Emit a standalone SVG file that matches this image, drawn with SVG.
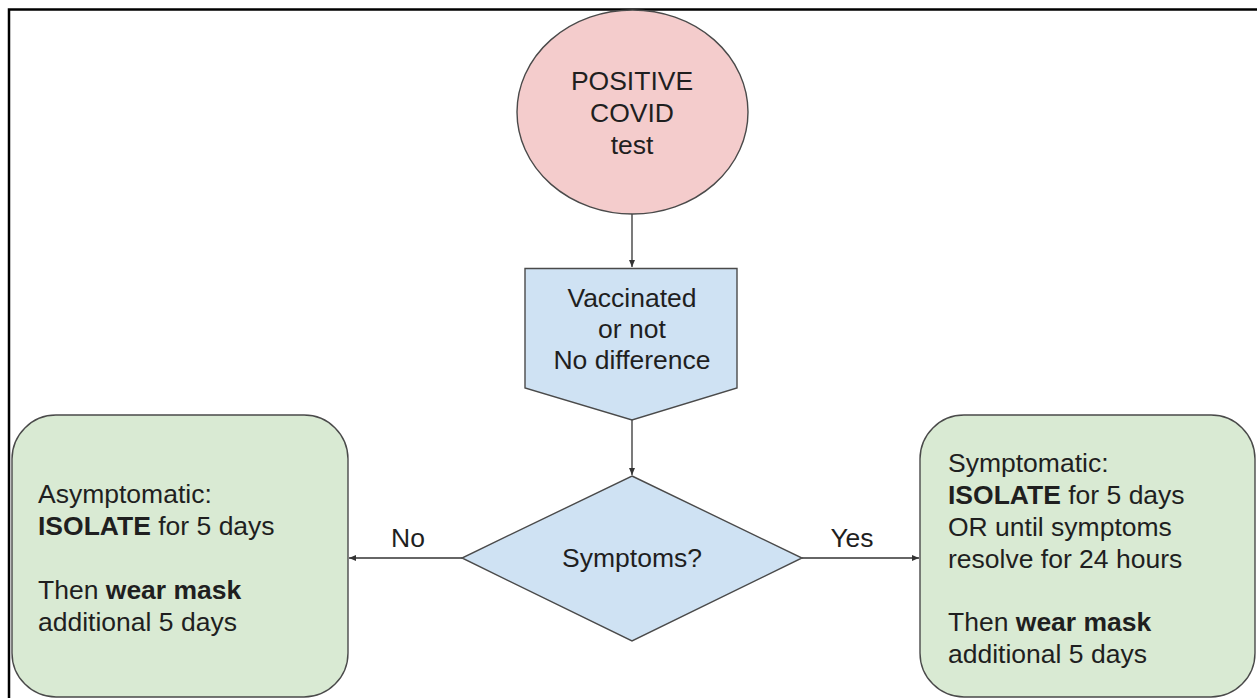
<svg xmlns="http://www.w3.org/2000/svg" width="1257" height="698" viewBox="0 0 1257 698">
<defs>
<marker id="ah" markerWidth="8" markerHeight="8" refX="7" refY="4" orient="auto" markerUnits="userSpaceOnUse">
<path d="M0,1 L7,4 L0,7 Z" fill="#333"/>
</marker>
<style>
.t{font-family:"Liberation Sans",Arial,sans-serif;font-size:26.5px;fill:#1f1f1f}
.c{text-anchor:middle}
.b{font-weight:bold}
.shape{stroke:#4a4a4a;stroke-width:1.4}
.conn{stroke:#333;stroke-width:1.3;fill:none;marker-end:url(#ah)}
</style>
</defs>
<rect width="1257" height="698" fill="#fff"/>
<path d="M9,698 V9.5 H1257" fill="none" stroke="#000" stroke-width="2.5"/>
<g id="connectors">
<path class="conn" d="M632,213 V267"/>
<path class="conn" d="M632,420 V475"/>
<path class="conn" d="M462,558 H349"/>
<path class="conn" d="M802,558 H919"/>
<text class="t" x="408" y="547" text-anchor="middle">No</text>
<text class="t" x="852" y="547" text-anchor="middle">Yes</text>
</g>
<g id="positive">
<ellipse class="shape" cx="632.5" cy="112" rx="115.5" ry="102" fill="#f4cccc"/>
<text class="t c" x="632" y="90">POSITIVE</text>
<text class="t c" x="632" y="122">COVID</text>
<text class="t c" x="632" y="154">test</text>
</g>
<g id="vaccinated">
<path class="shape" d="M525,268.5 H737 V388 L632,420 L525,388 Z" fill="#cfe2f3"/>
<text class="t c" x="632" y="307">Vaccinated</text>
<text class="t c" x="632" y="338">or not</text>
<text class="t c" x="632" y="369">No difference</text>
</g>
<g id="symptoms">
<path class="shape" d="M632,476 L802,558 L632,641 L462,558 Z" fill="#cfe2f3"/>
<text class="t c" x="632" y="567">Symptoms?</text>
</g>
<g id="asymptomatic">
<rect class="shape" x="12" y="415" width="336" height="282" rx="44" ry="44" fill="#d9ead3"/>
<text class="t" x="38" y="503">Asymptomatic:</text>
<text class="t" x="38" y="535"><tspan class="b">ISOLATE</tspan> for 5 days</text>
<text class="t" x="38" y="599">Then <tspan class="b">wear mask</tspan></text>
<text class="t" x="38" y="631">additional 5 days</text>
</g>
<g id="symptomatic">
<path class="shape" d="M964,415 H1211 A44,44 0 0 1 1255,459 V653 A44,44 0 0 1 1211,697 H964 A44,44 0 0 1 920,653 V459 A44,44 0 0 1 964,415 Z" fill="#d9ead3"/>
<text class="t" x="948" y="472">Symptomatic:</text>
<text class="t" x="948" y="504"><tspan class="b">ISOLATE</tspan> for 5 days</text>
<text class="t" x="948" y="536">OR until symptoms</text>
<text class="t" x="948" y="568">resolve for 24 hours</text>
<text class="t" x="948" y="631">Then <tspan class="b">wear mask</tspan></text>
<text class="t" x="948" y="663">additional 5 days</text>
</g>
</svg>
